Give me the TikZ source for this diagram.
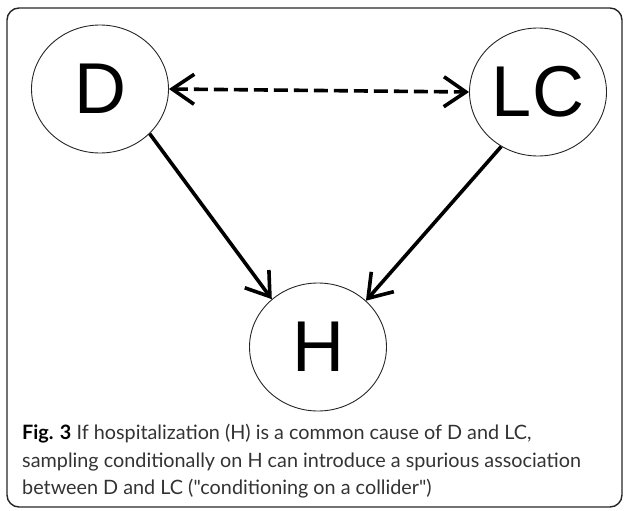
\documentclass[tikz,border=0pt]{standalone}
\usepackage{fontspec}
\setmainfont{Liberation Sans}
\newfontfamily\capfont{Lato}
\usetikzlibrary{arrows.meta,shapes.geometric}
\definecolor{capgray}{HTML}{333333}
\tikzset{
  var/.style={ellipse,draw=black!85,line width=0.9pt,minimum width=137pt,minimum height=128pt,inner sep=0pt,font=\fontsize{72}{72}\selectfont},
  arr/.style={line width=3.6pt,-{Straight Barb[length=22pt,width=30pt,line width=3.6pt]}},
  darr/.style={line width=3.6pt,dash pattern=on 14pt off 6pt,{Straight Barb[length=22pt,width=30pt,line width=3.6pt]}-{Straight Barb[length=22pt,width=30pt,line width=3.6pt]}}
}
\begin{document}
\begin{tikzpicture}[x=1pt,y=-1pt]
\useasboundingbox (0,0) rectangle (624,511);
\draw[line width=1.4pt,rounded corners=12pt,black!85] (7,8) rectangle (622,507);
\node[var] (D) at (100,89) {D};
\node[var] (LC) at (538,92) {LC};
\node[var] (H) at (318,347) {H};
\draw[darr] (D.east) -- (LC.west);
\draw[arr] (D.-42) -- (H.134);
\draw[arr] (LC.-124) -- (H.44);
\node[anchor=north west,align=left,inner sep=0pt,text=capgray,font=\capfont\fontsize{19.8}{27.5}\selectfont] (cap) at (22,424)
{\textbf{\color{black}Fig. 3} If hospitalization (H) is a common cause of D and LC,\\
sampling conditionally on H can introduce a spurious association\\
between D and LC ("conditioning on a collider")};
\end{tikzpicture}
\end{document}
